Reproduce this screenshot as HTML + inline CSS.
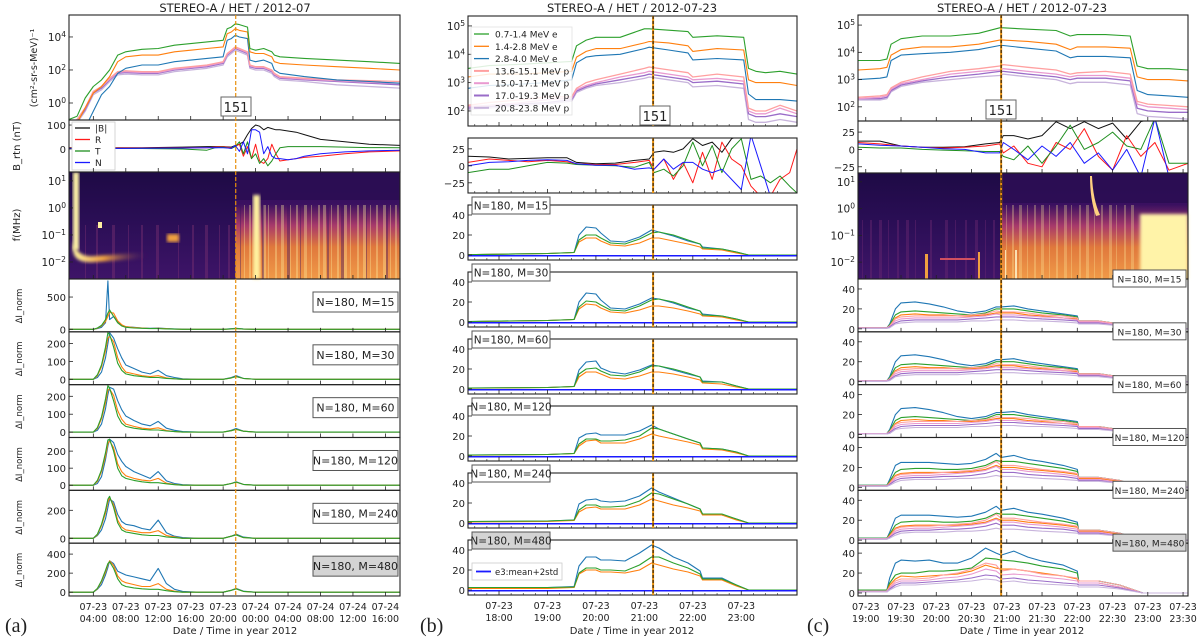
<!DOCTYPE html>
<html><head><meta charset="utf-8">
<style>
html,body{margin:0;padding:0;background:#fff;}
svg{display:block;font-family:"DejaVu Sans","Liberation Sans",sans-serif;}
</style></head>
<body>
<svg id="fig" width="1200" height="639" viewBox="0 0 1200 639" xmlns="http://www.w3.org/2000/svg">
<defs>
<linearGradient id="gA" x1="0" y1="0" x2="0" y2="1">
<stop offset="0" stop-color="#2a0f55"/><stop offset="0.3" stop-color="#3a1060"/><stop offset="0.5" stop-color="#a83a6a"/><stop offset="0.7" stop-color="#e0783c"/><stop offset="1" stop-color="#f09a48"/></linearGradient>
<linearGradient id="gL" x1="0" y1="0" x2="0" y2="1">
<stop offset="0" stop-color="#1e0a45"/><stop offset="0.45" stop-color="#2a0e55"/><stop offset="1" stop-color="#3e1468"/></linearGradient>
<linearGradient id="gTail" x1="0" y1="0" x2="1" y2="0">
<stop offset="0" stop-color="#fff3a0"/><stop offset="0.4" stop-color="#f0a040"/><stop offset="1" stop-color="#3a1262" stop-opacity="0"/></linearGradient>
<filter id="blur1"><feGaussianBlur stdDeviation="1.5"/></filter>
</defs>
</svg>
<script>
// ===== DATA =====
// Panel (a) flux, log10 values
const tFluxA = [1,2,3,4,5,6,7,8,10,12,14,16,18,20,20.5,21,21.5,22,23,23.3,24,25,26,26.3,27,30,34,38,41.8];
const fluxA_green  = [-1,-0.8,0.3,1.0,1.4,2.0,2.9,3.1,3.25,3.3,3.5,3.6,3.7,3.8,4.5,4.6,4.8,4.75,4.6,3.3,3.2,3.3,3.1,2.9,2.8,2.7,2.6,2.5,2.4];
const fluxA_orange = [-1.5,-1.2,-0.3,0.6,1.0,1.6,2.5,2.8,2.9,2.9,3.1,3.2,3.3,3.4,4.2,4.3,4.5,4.4,4.3,3.1,3.0,3.0,2.8,2.5,2.4,2.3,2.2,2.1,2.0];
const fluxA_blue   = [-2,-2,-1.5,-0.5,0.5,1.0,1.8,2.1,2.3,2.3,2.5,2.6,2.7,2.8,3.8,3.9,4.1,4.0,3.9,2.6,2.5,2.6,2.4,2.0,1.8,1.6,1.4,1.3,1.2];
const fluxA_pink   = [-1.5,-1,-0.3,0.7,1.0,1.5,1.9,1.95,1.9,1.9,2.1,2.2,2.3,2.5,3.0,3.2,3.4,3.3,3.1,2.3,2.2,2.2,2.0,1.8,1.6,1.5,1.4,1.35,1.3];
const fluxA_mag    = [-1.5,-1,-0.3,0.7,1.0,1.45,1.85,1.9,1.85,1.85,2.05,2.15,2.25,2.45,2.95,3.15,3.35,3.25,3.05,2.25,2.15,2.15,1.95,1.75,1.55,1.45,1.35,1.25,1.2];
const fluxA_purple = [-1.6,-1.1,-0.4,0.6,0.9,1.4,1.8,1.85,1.8,1.8,2.0,2.1,2.2,2.4,2.9,3.1,3.3,3.2,3.0,2.2,2.1,2.1,1.9,1.7,1.5,1.4,1.3,1.2,1.1];
const fluxA_lav    = [-1.7,-1.2,-0.5,0.5,0.8,1.3,1.7,1.75,1.7,1.7,1.9,2.0,2.1,2.3,2.8,3.0,3.2,3.1,2.9,2.1,2.0,2.0,1.8,1.6,1.4,1.3,1.1,1.0,0.9];
// Panel (a) magnetic field
const tBA = [1,10,15,18,19,20,21,21.5,22,22.5,23,23.5,24,24.5,25,25.5,26,26.5,27,28,29,30,32,35,38,41.8];
const bA_mag = [5,5,8,10,10,10,8,15,20,30,60,85,100,95,80,90,85,80,80,75,70,60,40,30,20,15];
const bA_R = [3,4,5,5,8,10,5,10,20,-30,10,-40,20,-50,-60,-40,20,-20,-50,-45,-40,-35,-30,-20,-12,-8];
const bA_T = [2,2,0,-5,5,8,2,10,30,-20,30,-40,-20,-60,-40,-70,-50,-20,5,10,10,10,10,8,6,5];
const bA_N = [2,3,4,5,6,5,3,15,-10,30,-20,80,80,70,-20,10,-30,-40,-40,-45,-40,-30,-20,-12,-8,-5];
// Panel (a) dI_norm
const tDA = [1,4,4.5,5,5.5,5.8,6,6.5,7,7.5,8,9,10,11,12,13,14,15,17,20,21,21.6,22.5,24,41.8];
const dA15_blue = [0,0,10,30,100,750,150,200,120,60,40,30,20,15,20,10,5,2,0,0,8,15,5,0,0];
const dA15_green = [0,0,20,60,150,250,300,200,100,50,30,20,15,10,10,5,3,0,0,0,5,10,3,0,0];
const dA15_orange = [0,0,15,50,120,200,260,250,130,70,40,25,18,12,15,8,3,0,0,0,5,10,3,0,0];
const dA30_blue = [0,0,10,40,120,200,260,230,170,120,80,60,40,30,50,20,10,3,0,0,10,20,5,0,0];
const dA30_green = [0,0,25,80,180,260,250,180,90,50,30,20,15,10,10,5,3,0,0,0,8,15,5,0,0];
const dA30_orange = [0,0,20,70,160,230,240,210,120,70,40,30,20,15,20,8,3,0,0,0,8,15,5,0,0];
const dA60_blue = [0,0,10,45,130,210,250,240,175,125,90,65,45,35,60,22,10,3,0,0,10,20,5,0,0];
const dA60_green = [0,0,25,85,185,260,245,175,90,50,32,22,16,12,12,6,3,0,0,0,8,15,5,0,0];
const dA60_orange = [0,0,20,75,165,235,240,205,120,72,45,32,22,18,24,9,3,0,0,0,8,15,5,0,0];
const dA120_blue = [0,0,10,50,150,230,270,250,180,140,110,80,60,40,80,25,10,3,0,0,10,20,5,0,0];
const dA120_green = [0,0,28,90,190,265,270,200,100,55,40,28,20,15,15,8,3,0,0,0,10,18,5,0,0];
const dA120_orange = [0,0,22,80,170,245,260,220,125,80,55,40,30,25,40,12,5,0,0,0,10,18,5,0,0];
const dA240_blue = [0,0,20,60,140,220,280,260,170,120,100,90,70,60,130,40,15,5,0,0,15,30,8,0,0];
const dA240_green = [0,0,30,100,200,280,300,220,110,60,45,35,25,20,20,10,5,0,0,0,15,25,5,0,0];
const dA240_orange = [0,0,25,90,180,260,290,240,130,80,60,50,40,40,55,20,10,0,0,0,15,25,5,0,0];
const dA480_blue = [0,0,30,80,180,260,330,300,220,200,180,160,140,120,250,90,30,8,0,0,20,40,10,0,0];
const dA480_green = [0,0,40,120,230,300,320,250,140,80,60,45,35,30,30,15,5,0,0,0,20,35,8,0,0];
const dA480_orange = [0,0,35,110,210,290,330,280,170,120,100,80,60,60,90,30,10,0,0,0,20,35,8,0,0];

// Panel (b) flux (log10)
const tFluxB = [17.36,17.8,18.5,19.0,19.5,19.6,19.8,20.0,20.5,21.0,21.1,21.5,21.9,22.0,22.5,23.05,23.15,23.3,23.5,23.8,24.15];
const fluxB_green  = [3.5,3.6,3.65,3.7,3.75,4.3,4.5,4.6,4.6,4.9,4.9,4.85,4.8,4.6,4.65,4.6,3.5,3.4,3.35,3.4,3.3];
const fluxB_orange = [3.2,3.3,3.3,3.35,3.4,3.9,4.1,4.2,4.2,4.4,4.45,4.4,4.3,4.1,4.2,4.15,3.1,3.0,3.0,3.0,2.9];
const fluxB_blue   = [2.8,2.9,2.95,3.0,3.1,3.7,3.9,3.95,4.0,4.2,4.25,4.15,4.05,3.8,3.85,3.8,2.6,2.4,2.4,2.4,2.35];
const fluxB_pink   = [2.2,2.3,2.4,2.5,2.5,2.8,3.0,3.1,3.3,3.5,3.55,3.45,3.35,3.2,3.3,3.2,2.1,2.0,2.0,2.2,2.0];
const fluxB_mag    = [2.15,2.2,2.3,2.4,2.45,2.75,2.9,3.0,3.2,3.35,3.4,3.3,3.2,3.1,3.15,3.05,2.0,1.9,1.9,2.1,1.9];
const fluxB_purple = [2.1,2.15,2.25,2.3,2.4,2.7,2.85,2.95,3.1,3.25,3.3,3.2,3.1,3.0,3.05,2.95,1.9,1.8,1.8,1.9,1.8];
const fluxB_lav    = [2.05,2.1,2.2,2.25,2.35,2.65,2.8,2.9,3.0,3.15,3.2,3.1,3.0,2.85,2.9,2.8,1.7,1.6,1.6,1.7,1.6];
// Panel (b) magnetic field
const tBB = [17.36,17.8,18.2,18.6,19.0,19.4,19.6,20.0,20.4,20.8,21.1,21.2,21.4,21.6,21.8,22.0,22.2,22.4,22.6,22.8,23.0,23.2,23.4,23.6,23.8,24.0,24.15];
const bB_mag = [14,13,10,11,12,12,5,3,4,8,10,20,22,20,25,40,30,35,20,40,45,45,45,45,45,45,45];
const bB_R = [5,10,8,6,8,6,3,2,2,5,8,-5,10,-20,5,-25,20,-20,35,10,0,-30,-45,-45,-20,-10,25];
const bB_T = [-10,-5,-5,0,5,4,2,1,0,-2,5,-10,-5,-15,0,35,0,30,-10,25,40,-20,-15,-25,-15,-30,-40];
const bB_N = [0,5,6,8,9,8,3,1,1,-5,-3,-5,10,-5,5,5,-5,-10,-5,-20,-35,45,0,-45,-45,-45,-45];
// Panel (b) dI_norm
const tDB = [17.36,19.0,19.55,19.65,19.8,20.0,20.1,20.3,20.6,20.9,21.15,21.3,21.6,21.9,22.15,22.2,22.6,22.9,23.15,24.15];
const dB15_blue   = [0.3,1.5,2.5,20,28,27,22,14,13,18,25,23,19,14,11,8,6,3,0,0];
const dB15_green  = [0.3,1.5,2.5,15,20,20,17,12,11,16,22,23,20,15,11,7,6,3,0,0];
const dB15_orange = [0.3,1.5,2.5,13,17,17,14,10,9,12,17,17,14,11,8,6,5,2,0,0];
const dB30_blue   = [0.5,1.5,2.5,20,29,28,22,14,13,18,24,23,19,14,11,8,6,3,0,0];
const dB30_green  = [0.5,1.5,2.5,15,21,20,17,12,11,16,22,23,20,15,11,7,6,3,0,0];
const dB30_orange = [0.3,1.5,2.5,13,18,17,14,10,9,12,16,16,14,11,8,6,5,2,0,0];
const dB60_blue   = [1,1.5,2.5,19,27,28,21,17,15,19,24,23,19,15,12,8,7,3,0,0];
const dB60_green  = [1,1.5,2.5,15,20,21,18,14,13,17,23,23,20,16,12,7,7,3,0,0];
const dB60_orange = [0.8,1.5,2.5,12,17,17,15,11,10,13,17,17,15,12,9,6,5,2,0,0];
const dB120_blue  = [1,1.5,2.5,18,22,23,21,21,21,25,31,27,22,17,13,8,7,4,0,0];
const dB120_green = [1,1.5,2.5,12,17,17,15,15,16,20,28,27,22,17,13,8,7,4,0,0];
const dB120_orange= [0.8,1.5,2.5,10,15,16,13,13,13,17,22,20,17,14,11,7,6,3,0,0];
const dB240_blue  = [1.5,2,3,19,23,24,22,21,22,27,35,31,25,19,14,9,8,4,0,0];
const dB240_green = [1.5,2,3,13,18,18,16,16,17,22,30,29,24,19,14,9,9,4,0,0];
const dB240_orange= [1,1.5,2.5,11,15,16,14,14,14,18,24,22,18,15,12,8,8,3,0,0];
const dB480_blue  = [2.5,2.5,3.5,24,33,33,30,30,29,37,45,42,33,27,19,12,12,5,0,0];
const dB480_green = [2.5,2.5,3,17,22,22,20,20,19,25,33,33,27,22,16,11,11,5,0,0];
const dB480_orange= [1.5,1.5,2.5,16,20,20,18,18,17,20,27,25,21,18,14,10,10,4,0,0];
const dB_thresh = [-0.8,-0.8];

// Panel (c) flux (log10)
const tFluxC = [18.89,19.2,19.3,19.36,19.5,19.8,20.2,20.6,20.9,20.95,21.3,21.7,21.9,22.0,22.4,22.75,22.85,23.0,23.3,23.57];
const fluxC_green  = [3.7,3.7,3.75,4.3,4.5,4.6,4.6,4.7,4.9,4.9,4.85,4.8,4.6,4.65,4.65,4.6,3.5,3.4,3.4,3.35];
const fluxC_orange = [3.35,3.4,3.45,3.9,4.1,4.2,4.2,4.3,4.45,4.45,4.4,4.3,4.1,4.2,4.2,4.15,3.1,3.0,3.0,2.95];
const fluxC_blue   = [3.0,3.05,3.1,3.7,3.9,3.95,4.0,4.1,4.25,4.25,4.15,4.05,3.8,3.85,3.85,3.8,2.6,2.45,2.4,2.35];
const fluxC_pink   = [2.35,2.4,2.45,2.7,2.9,3.1,3.3,3.4,3.5,3.55,3.45,3.35,3.2,3.25,3.3,3.2,2.2,2.1,2.05,2.0];
const fluxC_mag    = [2.3,2.35,2.4,2.65,2.85,3.0,3.2,3.3,3.35,3.4,3.3,3.2,3.1,3.15,3.15,3.05,2.1,2.0,1.95,1.9];
const fluxC_purple = [2.3,2.3,2.35,2.6,2.8,2.95,3.1,3.2,3.3,3.3,3.2,3.1,3.0,3.05,3.05,2.95,1.95,1.85,1.8,1.8];
const fluxC_lav    = [2.25,2.25,2.3,2.55,2.75,2.9,3.0,3.1,3.15,3.2,3.1,3.0,2.85,2.9,2.9,2.8,1.75,1.65,1.6,1.55];
// Panel (c) magnetic field
const tBC = [18.89,19.2,19.5,19.8,20.1,20.4,20.7,20.9,20.95,21.1,21.3,21.5,21.7,21.9,22.1,22.3,22.5,22.7,22.9,23.1,23.3,23.57];
const bC_mag = [12,12,5,3,3,4,8,10,20,20,15,20,40,30,40,30,38,15,40,45,45,45];
const bC_R = [10,8,5,3,2,3,5,8,-5,5,-20,-25,10,0,30,-10,-30,20,-10,10,-30,-20];
const bC_T = [3,2,2,0,-1,-2,-3,-3,-10,-15,5,-20,5,35,0,10,25,5,0,45,-20,-20];
const bC_N = [8,6,5,3,1,0,-5,-5,10,0,-15,5,-10,10,-20,-5,-30,0,-40,45,-40,-40];
// Panel (c) dI_norm
const tDC = [18.89,19.3,19.34,19.42,19.5,19.7,19.9,20.1,20.3,20.5,20.7,20.85,20.92,21.1,21.3,21.5,21.8,22.0,22.02,22.3,22.6,22.93,23.57];
const dClo_blue   = [1,1,5,20,26,27,25,22,18,16,18,22,22,23,20,18,15,13,8,8,5,0,0];
const dClo_green  = [1,1,4,14,17,18,17,16,15,14,16,20,20,20,18,16,14,12,8,8,5,0,0];
const dClo_orange = [1,1,3,11,14,15,14,14,13,13,14,16,16,16,14,13,11,10,7,7,4,0,0];
const dClo_pink   = [1,1,3,10,12,13,13,13,13,14,15,18,17,17,16,14,13,11,8,8,5,0,0];
const dClo_mag    = [1,1,2,8,10,11,11,11,11,12,13,15,14,14,13,12,11,9,7,7,4,0,0];
const dClo_purple = [0.5,0.5,2,6,8,9,9,9,9,10,11,12,12,12,11,10,9,8,6,6,3,0,0];
const dClo_lav    = [0.5,0.5,1,5,6,7,7,7,7,8,8,9,9,9,8,8,7,6,5,5,3,0,0];
const dCmid_blue   = [2,2,8,22,25,25,25,24,23,24,28,34,30,32,28,26,22,18,10,10,7,0,0];
const dCmid_green  = [2,2,6,15,18,19,19,18,18,19,22,27,26,26,24,22,19,16,10,10,7,0,0];
const dCmid_orange = [1.5,1.5,5,12,14,15,15,15,15,16,18,22,20,20,18,17,15,13,9,9,6,0,0];
const dCmid_pink   = [1.5,1.5,4,11,13,14,14,15,16,17,20,26,22,22,20,18,16,14,10,10,7,0,0];
const dCmid_mag    = [1.5,1.5,3,9,11,12,12,13,14,15,17,21,18,18,16,15,13,11,8,8,5,0,0];
const dCmid_purple = [1,1,3,7,9,10,10,11,11,12,14,17,15,15,13,12,11,9,7,7,4,0,0];
const dCmid_lav    = [1,1,2,5,7,8,8,8,9,9,10,12,11,11,10,9,8,7,6,6,4,0,0];
const dChi_blue   = [3,3,15,30,33,32,33,30,30,35,45,40,38,42,36,32,28,22,12,12,8,0,0];
const dChi_green  = [3,3,10,18,20,20,22,22,23,25,35,34,33,32,30,27,24,20,12,12,8,0,0];
const dChi_orange = [2,2,8,14,17,16,17,18,19,22,28,25,24,24,22,20,17,14,10,10,6,0,0];
const dChi_pink   = [2,2,6,12,14,14,15,18,20,24,30,28,22,24,22,19,17,15,12,12,8,0,0];
const dChi_mag    = [2,2,5,10,12,12,13,15,16,19,24,22,18,19,18,16,14,12,10,10,6,0,0];
const dChi_purple = [1,1,4,8,10,10,11,12,13,15,18,17,14,15,13,12,10,9,8,8,5,0,0];
const dChi_lav    = [1,1,3,6,8,8,9,10,11,12,14,13,11,12,10,9,8,7,6,6,4,0,0];

const eventTimeA = 21.55, eventTimeB = 21.18, eventTimeC = 20.92;
const tickHoursA = [4,8,12,16,20,24,28,32,36,40];
const tickHoursB = [18,19,20,21,22,23];
const tickHoursC = [19,19.5,20,20.5,21,21.5,22,22.5,23,23.5];
const channelNames = ['0.7-1.4 MeV e','1.4-2.8 MeV e','2.8-4.0 MeV e','13.6-15.1 MeV p','15.0-17.1 MeV p','17.0-19.3 MeV p','20.8-23.8 MeV p'];

// ===== DRAWING =====
const NS = 'http://www.w3.org/2000/svg';
const svg = document.getElementById('fig');
const COL = {green:'#2ca02c',orange:'#ff7f0e',blue:'#1f77b4',pink:'#ffa0a0',mag:'#e99ad0',purple:'#9a6cc8',lav:'#c8b4dc'};
const chanColors = [COL.green,COL.orange,COL.blue,COL.pink,COL.mag,COL.purple,COL.lav];

function mk(tag, attrs, name, parent){
  const e = document.createElementNS(NS, tag);
  for (const k in attrs) e.setAttribute(k, attrs[k]);
  
  
  (parent || svg).appendChild(e);
  return e;
}
function txt(x,y,s,size,anchor,name,extra){
  const t = mk('text', Object.assign({x:x,y:y,'font-size':size,'text-anchor':anchor||'start',fill:'#222'}, extra||{}), name);
  t.textContent = s;
  return t;
}
function supText(x,y,base,exp,size,anchor,name){
  const t = mk('text',{x:x,y:y,'font-size':size,'text-anchor':anchor,fill:'#222'},name);
  const a = document.createElementNS(NS,'tspan'); a.textContent = base; t.appendChild(a);
  const b = document.createElementNS(NS,'tspan'); b.setAttribute('dy','-4'); b.setAttribute('font-size', size*0.72); b.textContent = exp; t.appendChild(b);
  return t;
}
function axes(x0,x1,y0,y1,tdom,ydom){
  return {
    x:(t)=>x0+(t-tdom[0])/(tdom[1]-tdom[0])*(x1-x0),
    y:(v)=>y1-(v-ydom[0])/(ydom[1]-ydom[0])*(y1-y0),
    x0:x0,x1:x1,y0:y0,y1:y1
  };
}
function series(ax, ts, vs, color, width, name, clipId){
  const pts = ts.map((t,i)=>ax.x(t).toFixed(1)+','+ax.y(vs[i]).toFixed(1)).join(' ');
  const p = mk('polyline',{points:pts,fill:'none',stroke:color,'stroke-width':width||1,'stroke-linejoin':'round','clip-path':'url(#'+clipId+')'}, name);
  return p;
}
let clipN = 0;
function frame(ax, name){
  const id = 'clip'+(clipN++);
  const defs = svg.querySelector('defs');
  const cp = document.createElementNS(NS,'clipPath'); cp.setAttribute('id',id);
  const r = document.createElementNS(NS,'rect');
  r.setAttribute('x',ax.x0); r.setAttribute('y',ax.y0); r.setAttribute('width',ax.x1-ax.x0); r.setAttribute('height',ax.y1-ax.y0);
  cp.appendChild(r); defs.appendChild(cp);
  return id;
}
function border(ax,name){
  mk('rect',{x:ax.x0,y:ax.y0,width:ax.x1-ax.x0,height:ax.y1-ax.y0,fill:'none',stroke:'#222','stroke-width':1.1},name);
}
function xticks(ax, hours, tdom, name, minor){
  hours.forEach(h=>{ const x=ax.x(h); mk('line',{x1:x,x2:x,y1:ax.y1,y2:ax.y1-4,stroke:'#222','stroke-width':0.8},name); });
  if(minor) minor.forEach(h=>{ const x=ax.x(h); mk('line',{x1:x,x2:x,y1:ax.y1,y2:ax.y1-2,stroke:'#222','stroke-width':0.6},name+'-minor'); });
}
function yticks(ax, vals, labels, name, sup){
  vals.forEach((v,i)=>{
    const y = ax.y(v);
    mk('line',{x1:ax.x0,x2:ax.x0+4,y1:y,y2:y,stroke:'#222','stroke-width':0.8},name);
    if(sup) supText(ax.x0-3,y+4,'10',labels[i],10.5,'end',name+'-label');
    else txt(ax.x0-3,y+4,labels[i],10,'end',name+'-label');
  });
}
function xlabels(ax, hours){
  hours.forEach(h=>{
    const x = ax.x(h);
    const day = h>=24 ? '07-24' : '07-23';
    const hh = h>=24 ? h-24 : h;
    const H = Math.floor(hh), M = Math.round((hh-H)*60);
    const lab = (H<10?'0':'')+H+':'+(M<10?'0':'')+M;
    txt(x, ax.y1+14, day, 9.5, 'middle', 'x-tick-date');
    txt(x, ax.y1+26, lab, 9.5, 'middle', 'x-tick-time');
  });
}
function eventLine(ax, t, black){
  const x = ax.x(t);
  mk('line',{x1:x,x2:x,y1:ax.y0,y2:ax.y1,stroke:'#e8900c','stroke-width':black?2:1.2,'stroke-dasharray':black?'none':'4,2'},'event-line');
  if(black) mk('line',{x1:x,x2:x,y1:ax.y0,y2:ax.y1,stroke:'#111','stroke-width':1,'stroke-dasharray':'3,2'},'event-line-dash');
}
function labelBox(x,y,w,h,s,gray,size){
  mk('rect',{x:x,y:y,width:w,height:h,fill:gray?'#d4d4d4':'#fff',stroke:'#555','stroke-width':1},'panel-label-box');
  txt(x+w/2,y+h/2+4,s,size||11,'middle','panel-label');
}
function box151(x,y){
  mk('rect',{x:x,y:y,width:30,height:19,fill:'#fff',stroke:'#666','stroke-width':1},'event-number-box');
  txt(x+15,y+15,'151',13,'middle','event-number');
}
function stripes(xs, y0, h, color, op, name){
  xs.forEach((x,i)=>mk('rect',{x:x,y:y0,width:(i%3)+1,height:h,fill:color,opacity:op},name));
}
function fluxPanel(ax, ts, arrs, name){
  const id = frame(ax);
  const order=[6,5,4,3,2,1,0];
  order.forEach(i=>series(ax, ts, arrs[i], chanColors[i], i>=3?1.3:1.1, name+'-'+['green','orange','blue','pink','magenta','purple','lavender'][i], id));
  border(ax, name+'-frame');
}
function bPanel(ax, ts, mag, R, T, N, name){
  const id = frame(ax);
  series(ax, ts, mag, '#111', 1, name+'-B-magnitude', id);
  series(ax, ts, R, '#ff1a1a', 1, name+'-B-R', id);
  series(ax, ts, T, '#1f8f1f', 1, name+'-B-T', id);
  series(ax, ts, N, '#1a1aff', 1, name+'-B-N', id);
  border(ax, name+'-frame');
}
function dPanel(ax, ts, arrs, cols, name, thresh){
  const id = frame(ax);
  const idx = arrs.map((_,i)=>i).reverse();
  idx.forEach(i=>series(ax, ts, arrs[i], cols[i], 1.1, name+'-series-'+i, id));
  if(thresh!==undefined){
    series(ax, [ax.tdom0, ax.tdom1], thresh, '#1a1aff', 1.5, name+'-threshold', id);
  }
  border(ax, name+'-frame');
}

// ---------- Panel (a) ----------
const tdA = [1.0, 41.8];
const aX0=69, aX1=400;
txt(235,12,'STEREO-A / HET / 2012-07',11.5,'middle','title-a');
const aFlux = axes(aX0,aX1,15,120,tdA,[-1.03,5.33]);
fluxPanel(aFlux, tFluxA, [fluxA_green,fluxA_orange,fluxA_blue,fluxA_pink,fluxA_mag,fluxA_purple,fluxA_lav], 'a-flux');
yticks(aFlux,[0,2,4],['0','2','4'],'a-flux-ytick',true);
txt(0,0,'(cm²-sr-s-MeV)⁻¹',9.5,'middle','a-flux-ylabel',{transform:'translate(37,68) rotate(-90)'});
const aB = axes(aX0,aX1,120,172,tdA,[-96,121]);
bPanel(aB, tBA, bA_mag, bA_R, bA_T, bA_N, 'a-bfield');
yticks(aB,[0,100],['0','100'],'a-b-ytick');
txt(0,0,'B_rtn (nT)',10,'middle','a-b-ylabel',{transform:'translate(20,146) rotate(-90)'});
mk('rect',{x:72,y:122,width:43,height:48,fill:'#fff',stroke:'#ccc','stroke-width':0.8},'a-b-legend');
[['|B|','#111'],['R','#ff1a1a'],['T','#1f8f1f'],['N','#1a1aff']].forEach((e,i)=>{
  const y=128+i*11.5;
  mk('line',{x1:75,x2:90,y1:y,y2:y,stroke:e[1],'stroke-width':1.3},'a-b-legend-line');
  txt(95,y+3.5,e[0],9,'start','a-b-legend-text');
});
// spectrogram a
const aS = axes(aX0,aX1,172,279,tdA,[-2.63,1.33]);
const dash = aFlux.x(eventTimeA);
mk('rect',{x:aX0,y:172,width:dash-aX0,height:107,fill:'url(#gL)'},'a-spectrogram-quiet');
mk('rect',{x:dash,y:172,width:aX1-dash,height:107,fill:'url(#gA)'},'a-spectrogram-burst');
mk('rect',{x:dash,y:172,width:aX1-dash,height:28,fill:'#2a0d52',opacity:0.85},'a-spectrogram-top');
stripes([244,249,263,268,275,281,290,296,304,311,318,323,331,337,344,350,357,363,370,376,383,390,395],205,74,'#fff0a0',0.35,'a-spectrogram-stripe');
stripes([240,262,287,300,327,341,366,386],205,74,'#3a1060',0.4,'a-spectrogram-dark-stripe');
stripes([85,96,112,128,141,156,178,192,205,219,228],225,54,'#7a3070',0.45,'a-spectrogram-quiet-stripe');
mk('rect',{x:253,y:195,width:7,height:84,fill:'#fff2a0',filter:'url(#blur1)'},'a-spectrogram-streak');
mk('rect',{x:73,y:172,width:6,height:78,fill:'#fff4a8',filter:'url(#blur1)'},'a-spectrogram-typeIII');
mk('path',{d:'M73,240 Q76,258 95,256 L150,252 L150,258 L95,262 Q74,264 73,250 Z',fill:'url(#gTail)',filter:'url(#blur1)'},'a-spectrogram-tail');
mk('rect',{x:167,y:234,width:12,height:8,fill:'#f0a040',filter:'url(#blur1)'},'a-spectrogram-patch');
mk('rect',{x:98,y:222,width:4,height:6,fill:'#fff0a0'},'a-spectrogram-dot');
border(aS,'a-spectrogram-frame');
yticks(aS,[1,0,-1,-2],['1','0','−1','−2'],'a-spec-ytick',true);
txt(0,0,'f(MHz)',10,'middle','a-spec-ylabel',{transform:'translate(20,225) rotate(-90)'});
const aRows = [
  {lab:'N=180, M=15', dom:[-40,780], ticks:[0,500], d:[dA15_blue,dA15_green,dA15_orange]},
  {lab:'N=180, M=30', dom:[-30,265], ticks:[0,100,200], d:[dA30_blue,dA30_green,dA30_orange]},
  {lab:'N=180, M=60', dom:[-30,265], ticks:[0,100,200], d:[dA60_blue,dA60_green,dA60_orange]},
  {lab:'N=180, M=120', dom:[-30,280], ticks:[0,100,200], d:[dA120_blue,dA120_green,dA120_orange]},
  {lab:'N=180, M=240', dom:[-35,343], ticks:[0,200], d:[dA240_blue,dA240_green,dA240_orange]},
  {lab:'N=180, M=480', dom:[-40,515], ticks:[0,200,400], d:[dA480_blue,dA480_green,dA480_orange]}
];
let lastA;
aRows.forEach((r,i)=>{
  const y0 = 279+i*52.83, y1 = y0+52.83;
  const ax = axes(aX0,aX1,y0,y1,tdA,r.dom);
  dPanel(ax, tDA, [r.d[1],r.d[2],r.d[0]], [COL.green,COL.orange,COL.blue], 'a-dI-M'+r.lab.split('M=')[1]);
  yticks(ax, r.ticks, r.ticks.map(String), 'a-dI-ytick');
  txt(0,0,'ΔI_norm',8.5,'middle','a-dI-ylabel',{transform:'translate(22,'+(y0+27)+') rotate(-90)'});
  labelBox(313, y0+13, 85, 20, r.lab, i===5, 11);
  xticks(ax, tickHoursA, tdA, 'a-xtick');
  lastA = ax;
});
[aFlux,aB,aS].forEach(ax=>xticks(ax,tickHoursA,tdA,'a-xtick'));
const aLine = axes(aX0,aX1,15,596,tdA,[0,1]);
eventLine(aLine, eventTimeA, false);
box151(221,97);
xlabels(lastA, tickHoursA);
txt(235,634,'Date / Time in year 2012',10,'middle','a-xlabel');
txt(5,632,'(a)',20,'start','panel-a-letter',{'font-family':'Liberation Serif, serif'});

// ---------- Panel (b) ----------
const tdB = [17.36, 24.15];
const bX0=468, bX1=797;
txt(632,12,'STEREO-A / HET / 2012-07-23',11.5,'middle','title-b');
const bFlux = axes(bX0,bX1,16,126,tdB,[1.47,5.35]);
fluxPanel(bFlux, tFluxB, [fluxB_green,fluxB_orange,fluxB_blue,fluxB_pink,fluxB_mag,fluxB_purple,fluxB_lav], 'b-flux');
yticks(bFlux,[2,3,4,5],['2','3','4','5'],'b-flux-ytick',true);
mk('rect',{x:471,y:27,width:101,height:88,fill:'#fff',stroke:'#ddd','stroke-width':0.8,opacity:0.85},'b-legend');
channelNames.forEach((n,i)=>{
  const y = 34+i*12.3;
  mk('line',{x1:474,x2:489,y1:y,y2:y,stroke:chanColors[i],'stroke-width':i>=3?2:1.3},'b-legend-line');
  txt(495,y+3.5,n,9,'start','b-legend-text');
});
const bB = axes(bX0,bX1,138,193,tdB,[-40,41]);
bPanel(bB, tBB, bB_mag, bB_R, bB_T, bB_N, 'b-bfield');
yticks(bB,[25,0,-25],['25','0','−25'],'b-b-ytick');
const bRows = [
  {lab:'N=180, M=15', d:[dB15_blue,dB15_green,dB15_orange]},
  {lab:'N=180, M=30', d:[dB30_blue,dB30_green,dB30_orange]},
  {lab:'N=180, M=60', d:[dB60_blue,dB60_green,dB60_orange]},
  {lab:'N=180, M=120', d:[dB120_blue,dB120_green,dB120_orange]},
  {lab:'N=180, M=240', d:[dB240_blue,dB240_green,dB240_orange]},
  {lab:'N=180, M=480', d:[dB480_blue,dB480_green,dB480_orange]}
];
const minorB = [17.5,18.5,19.5,20.5,21.5,22.5,23.5,17.75,18.25,18.75,19.25,19.75,20.25,20.75,21.25,21.75,22.25,22.75,23.25,23.75];
let lastB;
bRows.forEach((r,i)=>{
  const y0 = 205+i*67, y1 = y0+55;
  const ax = axes(bX0,bX1,y0,y1,tdB,[-5,50]);
  ax.tdom0 = tdB[0]; ax.tdom1 = tdB[1];
  dPanel(ax, tDB, [r.d[1],r.d[2],r.d[0]], [COL.green,COL.orange,COL.blue], 'b-dI-M'+r.lab.split('M=')[1], dB_thresh);
  yticks(ax,[0,20,40],['0','20','40'],'b-dI-ytick');
  xticks(ax,tickHoursB,tdB,'b-xtick',minorB);
  eventLine(ax, eventTimeB, true);
  labelBox(472, y0-8, 78, 17, r.lab, i===5, 10.5);
  lastB = ax;
});
[bFlux,bB].forEach(ax=>{xticks(ax,tickHoursB,tdB,'b-xtick',minorB); eventLine(ax,eventTimeB,true);});
mk('rect',{x:472,y:563,width:90,height:17,fill:'#fff',stroke:'#ccc','stroke-width':0.8},'b-threshold-legend');
mk('line',{x1:476,x2:491,y1:571.5,y2:571.5,stroke:'#1a1aff','stroke-width':1.8},'b-threshold-legend-line');
txt(495,575,'e3:mean+2std',8.5,'start','b-threshold-legend-text');
box151(640,106);
xlabels(lastB, tickHoursB);
txt(632,634,'Date / Time in year 2012',10,'middle','b-xlabel');
txt(420,632,'(b)',20,'start','panel-b-letter',{'font-family':'Liberation Serif, serif'});

// ---------- Panel (c) ----------
const tdC = [18.89, 23.57];
const cX0=858, cX1=1188;
txt(1022,12,'STEREO-A / HET / 2012-07-23',11.5,'middle','title-c');
const cFlux = axes(cX0,cX1,15,121,tdC,[1.48,5.37]);
fluxPanel(cFlux, tFluxC, [fluxC_green,fluxC_orange,fluxC_blue,fluxC_pink,fluxC_mag,fluxC_purple,fluxC_lav], 'c-flux');
yticks(cFlux,[2,3,4,5],['2','3','4','5'],'c-flux-ytick',true);
const cB = axes(cX0,cX1,121,173,tdC,[-34,41]);
bPanel(cB, tBC, bC_mag, bC_R, bC_T, bC_N, 'c-bfield');
yticks(cB,[25,0,-25],['25','0','−25'],'c-b-ytick');
const cS = axes(cX0,cX1,173,279,tdC,[-2.63,1.33]);
const dashC = cFlux.x(eventTimeC);
mk('rect',{x:cX0,y:173,width:dashC-cX0,height:106,fill:'url(#gL)'},'c-spectrogram-quiet');
mk('rect',{x:dashC,y:173,width:cX1-dashC,height:106,fill:'url(#gA)'},'c-spectrogram-burst');
mk('rect',{x:dashC,y:173,width:cX1-dashC,height:30,fill:'#2a0d52',opacity:0.85},'c-spectrogram-top');
stripes([1006,1012,1019,1027,1034,1041,1049,1056,1064,1071,1079,1086,1094,1101,1109,1116,1124,1131],205,74,'#fff0a0',0.3,'c-spectrogram-stripe');
stripes([862,870,879,888,897,906,915,930,945,955,965,975,985,993],220,59,'#6a2870',0.45,'c-spectrogram-quiet-stripe');
stripes([1005,1015],250,29,'#fff8d0',0.8,'c-spectrogram-bright-stripe');
mk('rect',{x:1140,y:214,width:48,height:65,fill:'#fff3a8',filter:'url(#blur1)'},'c-spectrogram-bright-block');
mk('path',{d:'M1090,176 L1092,176 Q1093,200 1100,215 L1096,216 Q1090,200 1090,176 Z',fill:'#ffd080'},'c-spectrogram-streak');
mk('rect',{x:940,y:258,width:35,height:2,fill:'#d05060'},'c-spectrogram-hline');
mk('rect',{x:925,y:254,width:3,height:25,fill:'#f0a040'},'c-spectrogram-spike');
mk('rect',{x:978,y:252,width:2,height:27,fill:'#f0a040'},'c-spectrogram-spike');
border(cS,'c-spectrogram-frame');
yticks(cS,[1,0,-1,-2],['1','0','−1','−2'],'c-spec-ytick',true);
const cRowsData = [
  [dClo_blue,dClo_green,dClo_orange,dClo_pink,dClo_mag,dClo_purple,dClo_lav],
  [dClo_blue,dClo_green,dClo_orange,dClo_pink,dClo_mag,dClo_purple,dClo_lav],
  [dClo_blue,dClo_green,dClo_orange,dClo_pink,dClo_mag,dClo_purple,dClo_lav],
  [dCmid_blue,dCmid_green,dCmid_orange,dCmid_pink,dCmid_mag,dCmid_purple,dCmid_lav],
  [dCmid_blue,dCmid_green,dCmid_orange,dCmid_pink,dCmid_mag,dCmid_purple,dCmid_lav],
  [dChi_blue,dChi_green,dChi_orange,dChi_pink,dChi_mag,dChi_purple,dChi_lav]
];
const cLabels = ['N=180, M=15','N=180, M=30','N=180, M=60','N=180, M=120','N=180, M=240','N=180, M=480'];
let lastC;
cRowsData.forEach((d,i)=>{
  const y0 = 279+i*52.83, y1 = y0+52.83;
  const ax = axes(cX0,cX1,y0,y1,tdC,[-3,50]);
  dPanel(ax, tDC, [d[6],d[5],d[4],d[3],d[2],d[1],d[0]], [COL.lav,COL.purple,COL.mag,COL.pink,COL.orange,COL.green,COL.blue], 'c-dI-M'+cLabels[i].split('M=')[1]);
  yticks(ax,[0,20,40],['0','20','40'],'c-dI-ytick');
  xticks(ax,tickHoursC,tdC,'c-xtick');
  lastC = ax;
});
[cFlux,cB,cS].forEach(ax=>xticks(ax,tickHoursC,tdC,'c-xtick'));
const cLine = axes(cX0,cX1,15,596,tdC,[0,1]);
eventLine(cLine, eventTimeC, true);
cLabels.forEach((l,i)=>labelBox(1113, 279+i*52.83-9, 73, 17, l, i===5, 9));
box151(986,100);
xlabels(lastC, tickHoursC);
txt(1022,634,'Date / Time in year 2012',10,'middle','c-xlabel');
txt(807,632,'(c)',20,'start','panel-c-letter',{'font-family':'Liberation Serif, serif'});
</script>
</body></html>
